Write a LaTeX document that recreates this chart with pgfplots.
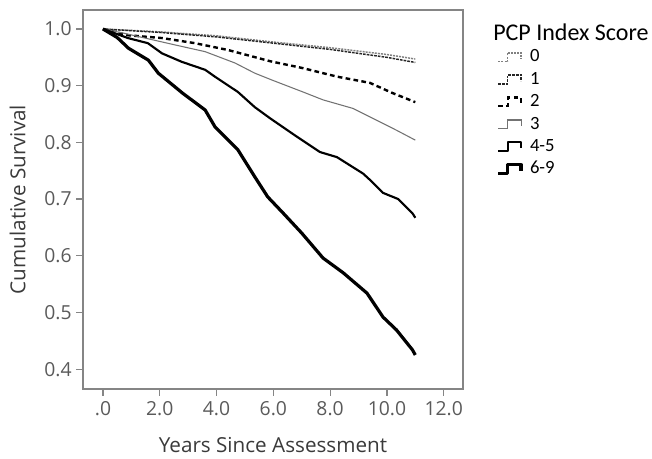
\documentclass[border=0pt]{standalone}
\usepackage{fontspec}
\setmainfont{Open Sans}
\newfontfamily\legfont{Carlito}
\usepackage{pgfplots}
\pgfplotsset{compat=1.18}
\definecolor{axgray}{HTML}{858585}
\definecolor{tickgray}{HTML}{5A5A5A}
\definecolor{labgray}{HTML}{3A3A3A}
\pgfplotstableread{
x y
0 1.0
2.0 0.995
4.0 0.988
6.0 0.977
8.0 0.967
10.0 0.955
11.0 0.947
}\tzero
\pgfplotstableread{
x y
0 1.0
2.0 0.994
4.0 0.986
6.0 0.975
8.0 0.964
10.0 0.950
11.0 0.941
}\tone
\pgfplotstableread{
x y
0 1.0
0.88 0.989
2.08 0.984
3.24 0.975
4.4 0.963
5.9 0.943
7.04 0.931
8.24 0.916
9.4 0.905
10.2 0.887
11.0 0.871
}\ttwo
\pgfplotstableread{
x y
0 1.0
0.7 0.993
1.48 0.984
2.53 0.972
3.6 0.96
4.65 0.94
5.35 0.922
5.95 0.91
7.04 0.889
7.75 0.875
8.8 0.86
9.4 0.845
10.2 0.825
11.0 0.804
}\tthree
\pgfplotstableread{
x y
0 1.0
0.88 0.984
1.58 0.975
2.08 0.957
2.78 0.942
3.6 0.928
3.94 0.916
4.75 0.889
5.35 0.862
5.9 0.842
6.83 0.81
7.64 0.783
8.24 0.774
9.16 0.745
9.4 0.734
9.86 0.711
10.4 0.70
10.9 0.675
11.0 0.667
}\tfour
\pgfplotstableread{
x y
0 1.0
0.5 0.985
0.9 0.966
1.6 0.945
1.95 0.922
2.8 0.887
3.6 0.857
3.95 0.827
4.75 0.787
5.35 0.739
5.8 0.704
6.35 0.675
7.0 0.64
7.75 0.596
8.46 0.57
9.3 0.534
9.86 0.492
10.34 0.469
10.9 0.434
11.0 0.425
}\tsix
\begin{document}
\begin{tikzpicture}
\useasboundingbox (-62.25pt,-51.75pt) rectangle (426.75pt,291.75pt);
\begin{axis}[
  at={(0pt,0pt)}, anchor=south west,
  scale only axis, width=285pt, height=284.25pt,
  xmin=-0.704, xmax=12.68, ymin=0.365, ymax=1.0335,
  xtick={0,2,4,6,8,10,12}, xticklabels={.0,2.0,4.0,6.0,8.0,10.0,12.0},
  ytick={0.4,0.5,0.6,0.7,0.8,0.9,1.0}, yticklabels={0.4,0.5,0.6,0.7,0.8,0.9,1.0},
  tick align=outside, tick pos=left, major tick length=5pt,
  axis line style={axgray, line width=0.9pt},
  every tick/.style={axgray, line width=0.9pt},
  /pgf/number format/assume math mode=true,
  tick label style={text=tickgray, font=\fontsize{14.5}{16}\selectfont},
  xticklabel style={yshift=-1pt},
  xlabel={Years Since Assessment}, ylabel={Cumulative Survival},
  label style={text=labgray, font=\fontsize{15.5}{18}\selectfont},
  xlabel style={at={(axis description cs:0.5,-0.148)}, anchor=center},
  ylabel style={at={(axis description cs:-0.172,0.5)}, anchor=center},
  clip mode=individual,
  legend style={draw=none, fill=none, at={(1.089,0.895)}, anchor=north west,
    inner sep=0pt, outer sep=0pt, font=\legfont\fontsize{14}{16}\selectfont,
    row sep=5.3pt, column sep=5.5pt, nodes={inner sep=0pt, text height=9pt, text depth=2.5pt}},
  legend cell align=left,
  legend image code/.code={\draw[#1] (0pt,-3pt) -- (7pt,-3pt) -- (7pt,3.5pt) -- (17pt,3.5pt) -- (17pt,-1pt);},
]
\addplot[black!50, line width=1.1pt, dash pattern=on 1.5pt off 0.8pt] table {\tzero};
\addlegendentry{0}
\addplot[black!85, line width=1.1pt, dash pattern=on 2pt off 0.8pt] table {\tone};
\addlegendentry{1}
\addplot[black, line width=1.8pt, dash pattern=on 3.5pt off 2.5pt] table {\ttwo};
\addlegendentry{2}
\addplot[black!55, line width=0.8pt] table {\tthree};
\addlegendentry{3}
\addplot[black, line width=1.6pt, line join=round] table {\tfour};
\addlegendentry{4-5}
\addplot[black, line width=2.4pt, line join=round] table {\tsix};
\addlegendentry{6-9}
\node[anchor=west, inner sep=0pt, font=\legfont\fontsize{18}{21}\selectfont] at (rel axis cs:1.079,0.942) {PCP Index Score};
\end{axis}
\end{tikzpicture}
\end{document}
